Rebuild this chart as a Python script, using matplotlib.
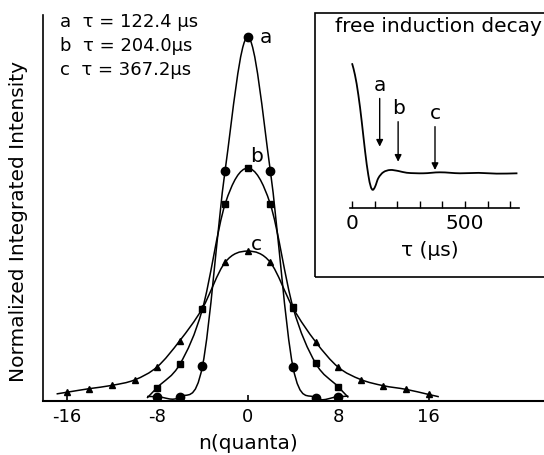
import numpy as np
import matplotlib
matplotlib.use("Agg")
import matplotlib.pyplot as plt
from matplotlib.path import Path
from matplotlib.patches import PathPatch, Rectangle

# photon-number distributions (normalised to peak of a)
n_a = [-8, -6, -4, -2, 0, 2, 4, 6, 8]
int_a = [0.012, 0.011, 0.096, 0.633, 1.0, 0.633, 0.094, 0.009, 0.012]

n_b = [-8, -6, -4, -2, 0, 2, 4, 6, 8]
int_b = [0.037, 0.101, 0.253, 0.541, 0.640, 0.541, 0.258, 0.104, 0.039]

n_c = [-16, -14, -12, -10, -8, -6, -4, -2, 0, 2, 4, 6, 8, 10, 12, 14, 16]
int_c = [0.024, 0.034, 0.043, 0.058, 0.094, 0.166, 0.255, 0.381, 0.412,
         0.381, 0.256, 0.163, 0.093, 0.059, 0.042, 0.032, 0.018]

curve_names = ['a', 'b', 'c']
delays = [122.4, 204.0, 367.2]
delay_text = ['122.4 \u03bcs', '204.0\u03bcs', '367.2\u03bcs']

x_ticks = [-16, -8, 0, 8, 16]

# free induction decay trace (inset)
fid_tau = [0, 13, 28, 43, 58, 72, 83, 92, 102, 116, 138, 168, 205, 242,
           315, 389, 478, 560, 640, 732]
fid_sig = [1.0, 0.894, 0.712, 0.469, 0.196, -0.015, -0.122, -0.150, -0.122,
           -0.045, 0.009, 0.030, 0.021, 0.005, 0.0, 0.009, 0.0, 0.004,
           -0.003, 0.0]
fid_ticks = [0, 100, 200, 300, 400, 500, 600, 700]


def smooth_path(x, y, ext=0.0):
    # cubic hermite through the points, drawn as bezier segments
    x = np.asarray(x, float)
    y = np.asarray(y, float)
    m = np.empty_like(y)
    m[1:-1] = (y[2:] - y[:-2]) / (x[2:] - x[:-2])
    m[0] = (y[1] - y[0]) / (x[1] - x[0])
    m[-1] = (y[-1] - y[-2]) / (x[-1] - x[-2])
    verts = []
    codes = []
    if ext > 0:
        verts.append((x[0] - ext, y[0] - m[0] * ext))
        codes.append(Path.MOVETO)
        verts.append((x[0], y[0]))
        codes.append(Path.LINETO)
    else:
        verts.append((x[0], y[0]))
        codes.append(Path.MOVETO)
    for i in range(len(x) - 1):
        h = x[i + 1] - x[i]
        verts += [(x[i] + h / 3, y[i] + m[i] * h / 3),
                  (x[i + 1] - h / 3, y[i + 1] - m[i + 1] * h / 3),
                  (x[i + 1], y[i + 1])]
        codes += [Path.CURVE4] * 3
    if ext > 0:
        verts.append((x[-1] + ext, y[-1] + m[-1] * ext))
        codes.append(Path.LINETO)
    return Path(verts, codes)


plt.rcParams['font.family'] = 'DejaVu Sans'
fs = 13
fs_lab = 14.5

fig = plt.figure(figsize=(5.44, 4.55), dpi=100)
W, H = 544.0, 455.0

# main panel
ax = fig.add_axes([43 / W, 1 - 401 / H, 1 - 43 / W, (401 - 15) / H])
ax.set_xlim(-18.1, 26.2)
ax.set_ylim(0, 1.061)

series = [(n_a, int_a, 'o', 6), (n_b, int_b, 's', 5), (n_c, int_c, '^', 5)]
label_offsets = [(13, 0), (6.5, 8.5), (6.5, 5)]
for (xs, ys, mk, ms), name, off in zip(series, curve_names, label_offsets):
    ax.add_patch(PathPatch(smooth_path(xs, ys, ext=0.9), fill=False,
                           edgecolor='black', lw=1.1))
    ax.plot(xs, ys, linestyle='none', marker=mk, ms=ms, color='black')
    k = int(np.argmax(ys))
    ax.annotate(name, (xs[k], ys[k]), xytext=off, textcoords='offset points',
                ha='center', va='center', fontsize=fs_lab)

for s in ['top', 'right']:
    ax.spines[s].set_visible(False)
ax.spines['left'].set_linewidth(1.2)
ax.spines['bottom'].set_linewidth(1.5)
ax.set_yticks([])
ax.set_xticks(x_ticks, labels=[str(t) for t in x_ticks])
ax.tick_params(axis='x', direction='in', length=4, width=1.2, pad=5,
               labelsize=fs)
ax.set_xlabel('n(quanta)', fontsize=fs_lab)
ax.xaxis.set_label_coords((248 - 43) / 501, -0.085)
ax.set_ylabel('Normalized Integrated Intensity', fontsize=fs_lab)
ax.yaxis.set_label_coords(-0.03, 0.465)

for i, (name, txt) in enumerate(zip(curve_names, delay_text)):
    fig.text(60 / W, 1 - (26.7 + 24.2 * i) / H,
             name + '  \u03c4 = ' + txt, fontsize=fs, va='baseline')

# inset box
fig.add_artist(Rectangle((315 / W, 1 - 277 / H), 0.5, (277 - 13) / H,
                         transform=fig.transFigure, fill=False,
                         edgecolor='black', lw=1.2))
fig.text(438 / W, 1 - 27 / H, 'free induction decay', fontsize=fs_lab,
         ha='center', va='center')

ins = fig.add_axes([350 / W, 1 - 208.3 / H, (519 - 350) / W,
                    (208.3 - 55) / H])
ins.patch.set_visible(False)
ins.set_xlim(-9, 739)
ins.set_ylim(-0.318, 1.075)
ins.add_patch(PathPatch(smooth_path(fid_tau, fid_sig), fill=False,
                        edgecolor='black', lw=1.3))
for s in ['top', 'right', 'left']:
    ins.spines[s].set_visible(False)
ins.spines['bottom'].set_linewidth(1.2)
ins.set_yticks([])
ins.set_xticks(fid_ticks,
               labels=[str(t) if t in (0, 500) else '' for t in fid_ticks])
ins.tick_params(axis='x', direction='in', length=5, width=1, pad=4,
                labelsize=fs_lab)

arrow_tail = [0.68, 0.469, 0.424]
arrow_tip = [0.242, 0.105, 0.03]
for name, t, y0, y1 in zip(curve_names, delays, arrow_tail, arrow_tip):
    ins.annotate('', xy=(t, y1), xytext=(t, y0),
                 arrowprops=dict(arrowstyle='-|>', color='black', lw=1,
                                 mutation_scale=10, shrinkA=0, shrinkB=0))
    ins.text(t, y0 + 0.12, name, ha='center', va='center', fontsize=fs_lab)

fig.text(430 / W, 1 - 250 / H, '\u03c4 (\u03bcs)', fontsize=fs_lab,
         ha='center', va='center')

fig.savefig('out.png', dpi=100)
